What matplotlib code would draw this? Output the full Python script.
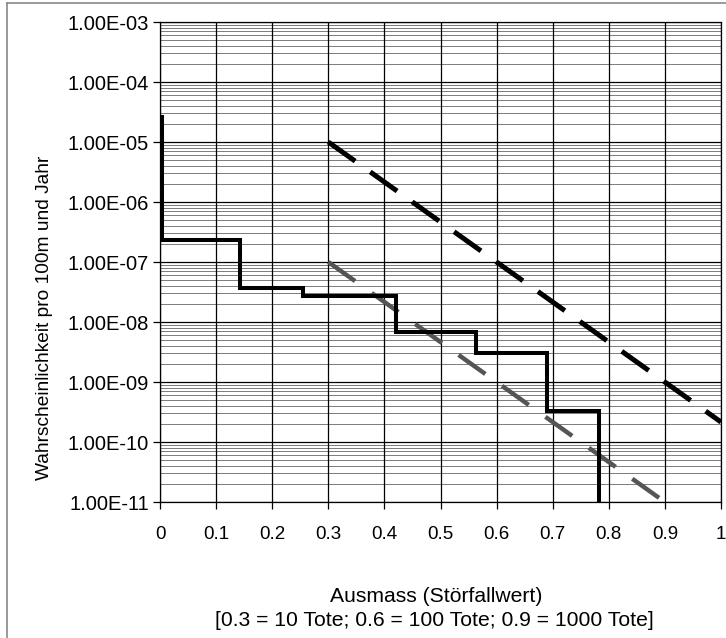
import matplotlib
matplotlib.use('Agg')
import matplotlib.pyplot as plt
from matplotlib.lines import Line2D
from matplotlib.ticker import FixedLocator, FuncFormatter
import numpy as np

plt.rcParams['font.family'] = ['Liberation Sans', 'DejaVu Sans']

# Step curve (black): x edges of each step, level of each step
step_edges = [0.0, 0.143, 0.255, 0.42, 0.563, 0.69, 0.782]
step_levels = [2.3e-7, 3.7e-8, 2.7e-8, 6.8e-9, 3.0e-9, 3.3e-10]
step_start = 2.8e-5
step_end = 1e-11

# Limit lines (dashed)
upper_x = [0.3, 1.0]
upper_y = [1e-5, 2.15e-10]
lower_x = [0.3, 0.93]
lower_y = [1e-7, 6.3e-12]

x_ticks = [0, 0.1, 0.2, 0.3, 0.4, 0.5, 0.6, 0.7, 0.8, 0.9, 1]
x_ticklabels = ['0', '0.1', '0.2', '0.3', '0.4', '0.5', '0.6', '0.7', '0.8', '0.9', '1']
y_decades = [1e-11, 1e-10, 1e-9, 1e-8, 1e-7, 1e-6, 1e-5, 1e-4, 1e-3]

fig = plt.figure(figsize=(7.26, 6.38), dpi=100)
ax = fig.add_axes([160 / 726, 1 - 502 / 638, 561 / 726, 480 / 638])
ax.set_yscale('log')
ax.set_xlim(0, 1)
ax.set_ylim(1e-11, 1e-3)

# grid: minor horizontals at 2..9 per decade
minor = [m * d for d in y_decades[:-1] for m in range(2, 10)]
for v in minor:
    ax.axhline(v, color='#666666', linewidth=0.6, zorder=1)
for v in y_decades:
    ax.axhline(v, color='black', linewidth=0.9, zorder=1)
for v in x_ticks:
    ax.axvline(v, color='black', linewidth=0.9, zorder=1)

# build step path from arrays
sx = [step_edges[0]]
sy = [step_start]
for i, lvl in enumerate(step_levels):
    sx += [step_edges[i], step_edges[i + 1]]
    sy += [lvl, lvl]
sx.append(step_edges[-1])
sy.append(step_end)

ax.plot(lower_x, lower_y, color='#555555', linewidth=3.2, dashes=(7.4, 4.6),
        dash_capstyle='butt', zorder=2)
ax.plot(upper_x, upper_y, color='black', linewidth=3.6, dashes=(6.6, 3.7),
        dash_capstyle='butt', zorder=3)
ax.plot([x + 0.004 if x == 0 else x for x in sx], sy, color='black', linewidth=2.9,
        zorder=4, solid_joinstyle='miter', solid_capstyle='butt')

ax.yaxis.set_major_locator(FixedLocator(y_decades))
ax.yaxis.set_minor_locator(FixedLocator([]))
ax.yaxis.set_major_formatter(FuncFormatter(lambda v, p: '1.00E-%02d' % (-int(round(np.log10(v))))))
ax.set_xticks(x_ticks)
ax.set_xticklabels(x_ticklabels)
ax.tick_params(axis='both', direction='out', length=5, width=0.9, colors='black')
ax.tick_params(axis='y', pad=3, labelsize=14.5)
ax.tick_params(axis='x', pad=12, labelsize=13.5)
for s in ax.spines.values():
    s.set_linewidth(0.9)

fig.text(45 / 726, 1 - 318 / 638, 'Wahrscheinlichkeit pro 100m und Jahr', rotation=90,
         ha='center', va='center', fontsize=13.8)
fig.text(436 / 726, 1 - 597 / 638, 'Ausmass (Störfallwert)', ha='center', va='center', fontsize=15.2)
fig.text(434 / 726, 1 - 621 / 638, '[0.3 = 10 Tote; 0.6 = 100 Tote; 0.9 = 1000 Tote]',
         ha='center', va='center', fontsize=15.2)

# outer frame (left and top edges visible)
fig.add_artist(Line2D([7 / 726, 7 / 726], [0, 1 - 3 / 638], transform=fig.transFigure,
                      color='#888888', linewidth=1.2))
fig.add_artist(Line2D([7 / 726, 1], [1 - 3 / 638, 1 - 3 / 638], transform=fig.transFigure,
                      color='#888888', linewidth=1.2))

fig.savefig('out.png', dpi=100)
